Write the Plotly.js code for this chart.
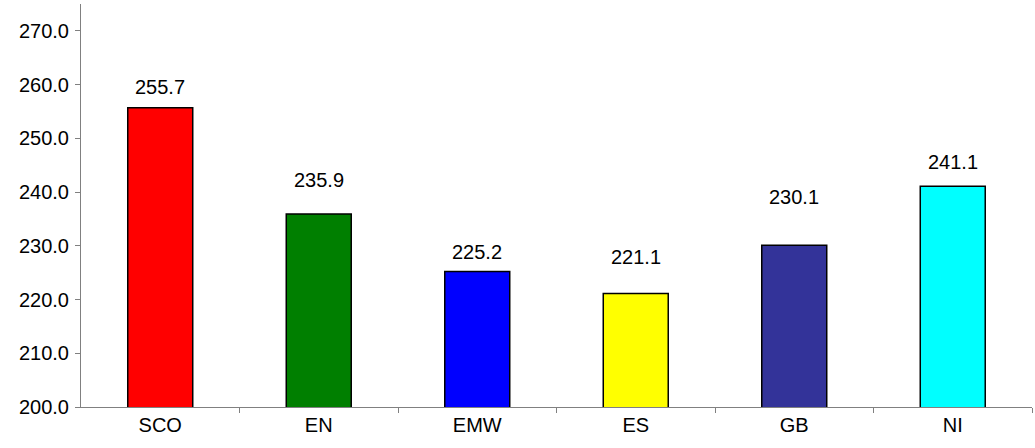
<!DOCTYPE html>
<html><head><script src="https://cdn.plot.ly/plotly-3.0.1.min.js"></script>
<style>body{margin:0}</style></head>
<body><div id="graph" style="width:1035px;height:448px"></div>
<script>
var regions = ["SCO", "EN", "EMW", "ES", "GB", "NI"];
var values = [255.7, 235.9, 225.2, 221.1, 230.1, 241.1];
var colors = ["#ff0000", "#007f00", "#0000ff", "#ffff00", "#333399", "#00ffff"];
// where the value labels sit (data units), as drawn in the original
var labelY = [259.6, 242.3, 228.8, 227.9, 239.1, 245.6];

var idx = regions.map(function (r, i) { return i; });

var trace = {
    type: "bar",
    x: idx,
    y: values,
    width: 0.41,
    marker: {color: colors, line: {color: "black", width: 1.5}},
    hoverinfo: "skip"
};
var dummy = {type: "scatter", x: [0], y: [200], xaxis: "x2", mode: "none", hoverinfo: "skip"};

var annotations = values.map(function (v, i) {
    return {x: i, y: labelY[i], text: v.toFixed(1), showarrow: false,
        font: {size: 20, color: "black"}};
});

var layout = {
    width: 1035, height: 448,
    margin: {l: 81, r: 3, t: 4, b: 41},
    paper_bgcolor: "white", plot_bgcolor: "white",
    font: {family: "Arial, Liberation Sans", size: 20, color: "black"},
    showlegend: false,
    annotations: annotations,
    xaxis: {
        range: [-0.5, 5.5], tickvals: idx, ticktext: regions,
        showline: true, linecolor: "#808080", ticks: "", zeroline: false, showgrid: false,
        tickfont: {size: 20}
    },
    xaxis2: {
        overlaying: "x", range: [-0.5, 5.5], tickvals: [0.5, 1.5, 2.5, 3.5, 4.5, 5.5],
        ticktext: ["", "", "", "", "", ""], ticks: "outside", ticklen: 5, tickcolor: "#808080",
        showgrid: false, zeroline: false, showline: false, side: "bottom"
    },
    yaxis: {
        range: [200, 275], tickvals: [200, 210, 220, 230, 240, 250, 260, 270],
        tickformat: ".1f", showline: true, linecolor: "#808080", ticks: "outside",
        ticklen: 5, tickcolor: "#808080", showgrid: false, zeroline: false, ticklabelstandoff: 2
    }
};
Plotly.newPlot("graph", [trace, dummy], layout, {displayModeBar: false});
</script></body></html>
